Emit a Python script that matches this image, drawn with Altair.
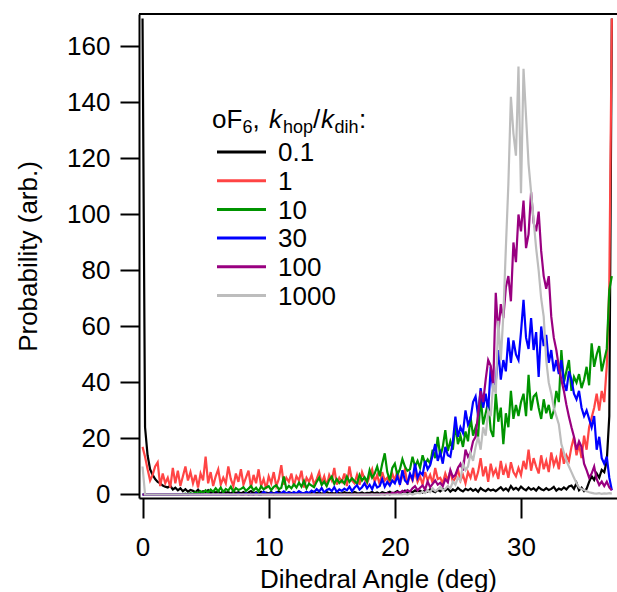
import altair as alt
import pandas as pd

# Dihedral-angle histograms for oF6 at several hop/dihedral rate ratios.
# Bins are 0.2 deg wide, from 0 to 37.2 deg.
angle = [round(0.2 * i, 1) for i in range(187)]

ratio_labels = ["0.1", "1", "10", "30", "100", "1000"]
ratio_colors = ["#000000", "#ff4444", "#009400", "#0000ff", "#990080", "#bdbdbd"]

p_0_1 = [
    170, 24, 14, 9, 7, 5.5, 4.5, 4, 3.2, 2.8,
    2.5, 3.1, 1.8, 2.4, 1.5, 2.2, 1.2, 1.9, 1.0, 1.6,
    1.3, 0.8, 1.7, 0.6, 1.2, 0.9, 1.5, 0.5, 1.1, 0.7,
    1.0, 0.4, 1.3, 0.6, 0.9, 0.3, 1.1, 0.5, 0.8, 0.4,
    0.9, 0.3, 0.7, 1.2, 0.4, 0.8, 0.3, 1.0, 0.5, 0.7,
    0.4, 0.9, 0.3, 0.6, 1.1, 0.4, 0.7, 0.3, 0.8, 0.5,
    0.6, 0.3, 0.9, 0.5, 0.4, 0.8, 0.3, 0.6, 1.0, 0.4,
    0.7, 0.3, 0.5, 0.9, 0.4, 0.6, 0.3, 0.8, 0.5, 0.4,
    0.8, 0.4, 0.6, 0.3, 0.9, 0.5, 0.4, 0.7, 0.3, 0.6,
    0.5, 0.9, 0.4, 0.7, 0.3, 0.8, 0.5, 0.6, 1.0, 0.4,
    0.7, 1.2, 0.5, 0.9, 1.4, 0.6, 1.1, 0.8, 1.5, 0.9,
    1.3, 0.7, 1.6, 1.0, 1.9, 1.2, 0.8, 1.7, 1.1, 2.0,
    1.4, 2.2, 1.0, 1.8, 1.3, 2.4, 1.6, 1.1, 2.0, 1.5,
    2.1, 1.3, 1.9, 1.0, 2.3, 1.6, 1.2, 2.0, 1.4, 1.8,
    1.2, 1.9, 2.6, 1.5, 2.2, 1.3, 3.0, 1.8, 2.4, 1.6,
    2.8, 2.0, 1.5, 2.5, 1.7, 2.2, 1.4, 2.6, 1.9, 1.5,
    2.3, 1.6, 2.0, 2.7, 1.4, 2.1, 1.7, 2.5, 1.8, 2.9,
    3.2, 2.0, 4.1, 1.5, 2.4, 1.2, 2.0, 4.5, 6.5, 5.2,
    7.5, 6.0, 8.8, 8.0, 12.0, 28.0, 170,
]

p_1 = [
    17, 13.5, 9, 5, 7, 10, 11.5, 3, 7.5, 4,
    6, 2.5, 9.5, 4, 8.5, 3, 6.5, 10, 5, 8,
    4, 7, 2.5, 7.5, 5, 13.5, 4, 8, 3, 6.5,
    9, 3.5, 6, 4, 10, 5.5, 3, 7.5, 4.5, 9,
    3.5, 6, 8.5, 2.5, 7, 4, 9, 3, 5.5, 2,
    6.5, 4, 8, 3, 5.5, 10.5, 3.5, 6, 4.5, 7.5,
    3, 6.5, 5, 8.5, 2.5, 6, 4.5, 7, 3.5, 5.5,
    8, 4, 6.5, 3, 7, 5, 9.5, 3.5, 6, 4.5,
    7.5, 3, 10, 5, 4, 7, 3.5, 8, 5.5, 4,
    6.5, 9, 4.5, 7, 3.5, 8, 5, 6, 4, 7.5,
    5, 8.5, 4, 6.5, 9, 3.5, 7, 5, 8, 4.5,
    6.5, 3.5, 8, 5, 7, 4, 9.5, 5.5, 6, 4,
    7.5, 5, 8.5, 4.5, 6, 9, 5, 7, 4, 8,
    6, 9.5, 5, 8, 13, 6.5, 10, 4.5, 11, 7,
    9, 5.5, 12, 7, 10, 6, 11.5, 8, 6.5, 9.5,
    7, 12, 9, 16, 8.5, 13, 10, 7.5, 14, 9,
    12, 8, 15, 10.5, 13, 9, 16.5, 11, 14, 12,
    17, 20.5, 14, 18, 13, 21, 16, 24, 27.5, 31,
    36, 30, 37, 33, 46, 75, 170,
]

p_10 = [
    0, 0, 0, 0, 0, 0, 0, 0, 0, 0,
    0, 0, 0, 0, 0, 0, 0, 0.3, 0, 0.5,
    0.2, 0.8, 0.3, 1.2, 0.5, 1.5, 0.7, 1.8, 1.0, 2.2,
    1.2, 2.5, 0.8, 2.0, 1.4, 2.8, 1.0, 2.3, 1.6, 2.0,
    2.6, 1.3, 2.1, 3.0, 1.5, 2.4, 1.1, 2.9, 1.8, 2.5,
    3.0, 1.6, 2.7, 3.3, 1.9, 2.4, 6.4, 2.0, 3.1, 2.2,
    3.6, 2.5, 4.2, 2.8, 4.8, 2.2, 3.9, 3.2, 2.6, 4.5,
    6.0, 3.4, 4.6, 3.0, 5.2, 6.4, 3.8, 5.5, 4.1, 5.0,
    3.9, 6.4, 4.5, 5.8, 4.8, 3.8, 7.0, 5.0, 6.2, 4.6,
    8.7, 6.0, 7.5, 10.0, 6.5, 11, 14.7, 8, 5, 9.5,
    11, 7, 9, 12.6, 10, 8.5, 9, 13.5, 10, 12,
    9.5, 14, 11, 12.5, 11, 16, 13, 20.6, 13.5, 17,
    23, 15.5, 19, 16, 25, 18, 21, 17, 22.5, 19,
    27.8, 21, 24, 20.6, 35, 25, 29, 33, 23, 20.6,
    36, 26, 31, 18, 29, 24, 37, 27, 32, 28,
    33, 36, 28, 42.7, 30, 35, 36, 31, 27, 34,
    29, 32, 27, 30, 37, 33, 51.6, 40, 44, 48,
    37, 42, 40, 43, 38, 41, 45.6, 39, 54, 45.6,
    50, 53, 44, 48, 52, 73, 78,
]

p_30 = [
    0, 0, 0, 0, 0, 0, 0, 0, 0, 0,
    0, 0, 0, 0, 0, 0, 0, 0, 0, 0,
    0, 0, 0, 0, 0, 0, 0, 0, 0, 0,
    0, 0, 0, 0, 0, 0, 0, 0, 0.3, 0,
    0, 0.4, 0, 0.2, 0, 0.5, 0, 0, 1.0, 0.3,
    0.2, 0.6, 0.1, 0.8, 0.3, 0.5, 1.1, 0.4, 0.7, 0.2,
    0.9, 0.4, 1.2, 0.6, 0.3, 1.0, 0.5, 1.4, 0.8, 1.9,
    1.1, 2.3, 0.7, 1.6, 2.0, 1.2, 2.6, 0.9, 1.8, 1.3,
    2.1, 1.5, 2.8, 1.2, 2.4, 3.3, 1.8, 2.6, 4.0, 2.2,
    3.5, 1.9, 4.2, 2.5, 3.0, 5.5, 2.8, 4.5, 3.2, 5.0,
    4.0, 6.5, 3.5, 8.7, 5.0, 4.0, 7.5, 5.5, 11, 6,
    8, 7, 12, 9, 10.5, 14, 18, 12, 15, 11,
    17, 14, 13.5, 19, 27.8, 20.6, 24, 22, 30, 25,
    27, 33, 35, 28, 38, 31, 36, 30, 45.6, 37,
    40, 51.6, 41, 48, 44, 56, 47, 55, 50, 48,
    58, 69.5, 56, 52, 63, 51.6, 58, 42, 60, 53,
    57, 47, 51.6, 44, 48, 43, 48, 40, 37, 44,
    41, 36, 34, 37, 31, 28, 30, 27, 24, 28,
    16, 20.6, 13, 11, 13.5, 6, 1.5,
]

p_100 = [
    0, 0, 0, 0, 0, 0, 0, 0, 0, 0,
    0, 0, 0, 0, 0, 0, 0, 0, 0, 0,
    0, 0, 0, 0, 0, 0, 0, 0, 0, 0,
    0, 0, 0, 0, 0, 0, 0, 0, 0, 0,
    0, 0, 0, 0, 0, 0, 0, 0, 0, 0,
    0, 0, 0, 0, 0, 0, 0, 0, 0, 0,
    0, 0, 0, 0, 0, 0, 0, 0, 0, 0,
    0, 0, 0, 0, 0, 0, 0, 0, 0, 0,
    0, 0, 0, 0, 0, 0, 0, 0, 0, 0,
    0, 0, 0, 0, 0, 0.2, 0, 0.4, 0, 0.6,
    0.3, 0.9, 0.5, 1.3, 0.8, 1.6, 1.0, 2.2, 3.0, 1.5,
    2.4, 3.2, 1.8, 4.6, 2.6, 3.8, 5.0, 3.5, 4.2, 3.0,
    5.5, 4.4, 8.7, 6.2, 7.0, 9.5, 11, 8.5, 16, 13.5,
    15, 19, 20.6, 29, 37, 33, 41, 48, 46, 39,
    72, 57.6, 68, 63, 74, 78, 69, 90, 83, 100,
    94, 105, 88, 93, 108, 97, 94, 101, 87, 78,
    73.5, 78, 63.5, 56, 51.6, 45.6, 41, 37, 32, 27.8,
    24, 20.6, 16, 19, 17, 11, 8.7, 6, 7.5, 10,
    5.5, 3.4, 4.6, 3, 4.6, 2.5, 1.5,
]

p_1000 = [
    10, 0, 0, 0, 0, 0, 0, 0, 0, 0,
    0, 0, 0, 0, 0, 0, 0, 0, 0, 0,
    0, 0, 0, 0, 0, 0, 0, 0, 0, 0,
    0, 0, 0, 0, 0, 0, 0, 0, 0, 0,
    0, 0, 0, 0, 0, 0, 0, 0, 0, 0,
    0, 0, 0, 0, 0, 0, 0, 0, 0, 0,
    0, 0, 0, 0, 0, 0, 0, 0, 0, 0,
    0, 0, 0, 0, 0, 0, 0, 0, 0, 0,
    0, 0, 0, 0, 0, 0, 0, 0, 0, 0,
    0, 0, 0, 0, 0, 0, 0, 0, 0, 0,
    0, 0, 0, 0, 0.2, 0, 0.4, 0, 0.3, 0.6,
    0.4, 1.0, 0.5, 1.5, 0.8, 2.2, 1.2, 1.8, 2.8, 1.5,
    2.0, 3.0, 2.2, 4.6, 3.5, 6.0, 5.0, 11, 8.7, 10,
    14.7, 12, 17, 20.6, 16, 24, 21, 30, 28, 39.7,
    36, 62, 48, 64, 88, 111, 142, 129, 121, 152.8,
    107.6, 152, 135, 118, 108, 98, 88, 80, 70, 63.5,
    48, 40, 36, 31, 28, 25, 18, 15, 12, 10,
    8, 6, 4, 2.5, 2.0, 1.6, 1.2, 0.8, 0.6, 0.4,
    0.3, 0.5, 0.2, 0.4, 0.3, 0.5, 0.3,
]

series = [p_0_1, p_1, p_10, p_30, p_100, p_1000]

rows = []
for lab, vals in zip(ratio_labels, series):
    assert len(vals) == len(angle), lab
    for a, v in zip(angle, vals):
        rows.append({"angle": a, "prob": v, "ratio": lab})
df = pd.DataFrame(rows)

FONT = "Liberation Sans"
W, H = 478, 484

x_axis = alt.Axis(
    values=[0, 10, 20, 30], title="Dihedral Angle (deg)", grid=False,
    domainColor="black", domainWidth=2, tickColor="black", tickWidth=2,
    tickSize=20, labelFontSize=26, labelFont=FONT, labelColor="black",
    labelPadding=16, labelFlush=False, titleFont=FONT, titleFontSize=26,
    titleFontWeight="normal", titleColor="black", titleX=W / 2, titleY=89,
    titleBaseline="alphabetic",
)
y_axis = alt.Axis(
    values=[0, 20, 40, 60, 80, 100, 120, 140, 160], title="Probability (arb.)",
    grid=False, domainColor="black", domainWidth=2, tickColor="black",
    tickWidth=2, tickSize=19, labelFontSize=26, labelFont=FONT,
    labelColor="black", labelPadding=10, labelFlush=False, titleFont=FONT,
    titleFontSize=26, titleFontWeight="normal", titleColor="black",
    titleX=-103, titleY=H / 2, titleBaseline="alphabetic",
)

lines = alt.Chart(df).mark_line(strokeWidth=2.2, clip=True).encode(
    x=alt.X("angle:Q", scale=alt.Scale(domain=[-0.28, 37.61], nice=False, zero=False), axis=x_axis),
    y=alt.Y("prob:Q", scale=alt.Scale(domain=[-1.25, 171.6], nice=False, zero=False), axis=y_axis),
    color=alt.Color("ratio:N", scale=alt.Scale(domain=ratio_labels, range=ratio_colors), legend=None),
    order=alt.Order("angle:Q"),
)

one = pd.DataFrame({"k": [0]})

# top edge of the frame
top_edge = alt.Chart(one).mark_rule(color="black", strokeWidth=2).encode(y=alt.value(0))

# legend: header built from normal, italic and subscript pieces, then one row per ratio
layers = [lines, top_edge]
header = [
    ("oF", 73, 114, 26, "normal"),
    ("6", 103.5, 119, 18, "normal"),
    (",", 113.5, 114, 26, "normal"),
    ("k", 130, 114, 26, "italic"),
    ("hop", 144, 119, 18, "normal"),
    ("/", 174, 114, 26, "normal"),
    ("k", 182, 114, 26, "italic"),
    ("dih", 195.5, 119, 18, "normal"),
    (":", 220, 114, 26, "normal"),
]
for txt, x, y, size, style in header:
    layers.append(
        alt.Chart(one).mark_text(
            align="left", baseline="alphabetic", font=FONT, fontSize=size,
            fontStyle=style, color="black",
        ).encode(x=alt.value(x), y=alt.value(y), text=alt.value(txt))
    )

for i, (lab, col) in enumerate(zip(ratio_labels, ratio_colors)):
    yrow = 138 + 28.7 * i
    layers.append(
        alt.Chart(one).mark_rule(strokeWidth=3).encode(
            x=alt.value(78), x2=alt.value(127), y=alt.value(yrow), color=alt.value(col)
        )
    )
    layers.append(
        alt.Chart(one).mark_text(
            align="left", baseline="alphabetic", font=FONT, fontSize=26, color="black"
        ).encode(x=alt.value(139), y=alt.value(yrow + 9.3), text=alt.value(lab))
    )

chart = alt.layer(*layers).properties(
    width=W, height=H, autosize="none",
    padding={"left": 139, "top": 14, "right": 0, "bottom": 94},
    background="white",
).configure_view(stroke=None)

chart.save("out.html", embed_options={"renderer": "svg", "actions": False})
